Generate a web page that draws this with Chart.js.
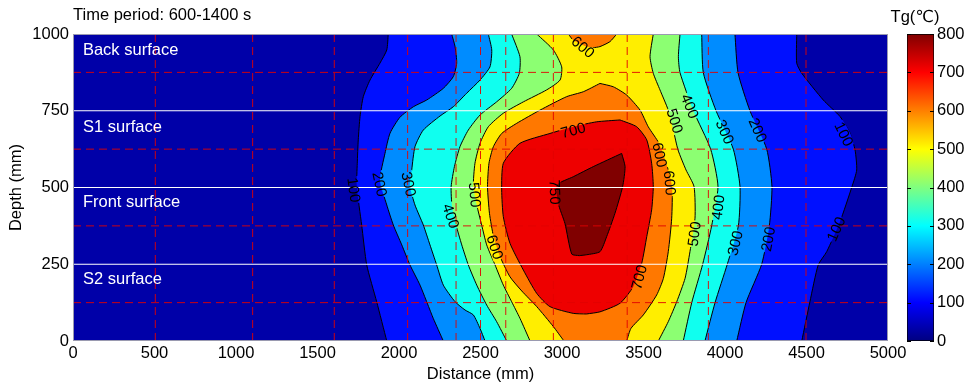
<!DOCTYPE html>
<html><head><meta charset="utf-8">
<script src="https://cdn.jsdelivr.net/npm/chart.js@4.4.1/dist/chart.umd.min.js"></script>
<style>
html,body{margin:0;padding:0;background:#fff;}
#wrap{position:relative;width:971px;height:389px;overflow:hidden;}
#main{position:absolute;left:0;top:0;}
#cbar{position:absolute;left:880px;top:0;}
</style></head><body>
<div id="wrap">
<canvas id="main" width="971" height="389"></canvas>
<canvas id="cbar" width="91" height="389"></canvas>
</div>
<script>
// ---------------- data ----------------
const chartTitle = 'Time period: 600-1400 s';
const xTitle = 'Distance (mm)';
const yTitle = 'Depth (mm)';
const colorbarTitle = 'Tg(℃)';
const xTicks = [0, 500, 1000, 1500, 2000, 2500, 3000, 3500, 4000, 4500, 5000];
const yTicks = [0, 250, 500, 750, 1000];
const colorbarTicks = [0, 100, 200, 300, 400, 500, 600, 700, 800];

// contour boundaries: [distance (mm), depth (mm)], ordered by depth
const fieldLeft  = [[0, 0], [0, 1000]];
const fieldRight = [[5000, 0], [5000, 1000]];
const c100Left  = [[1925,0],[1863,128],[1802,248],[1771,378],[1741,503],[1744,579],[1750,655],[1761,731],[1781,796],[1822,850],[1883,905],[1925,948],[1934,1000]];
const c100Right = [[4471,0],[4521,128],[4572,248],[4624,291],[4706,389],[4779,503],[4808,557],[4798,622],[4767,677],[4706,731],[4603,785],[4471,872],[4440,905],[4440,1000]];
const c200Left  = [[2272,0],[2210,74],[2129,182],[2067,248],[2017,313],[1965,378],[1925,443],[1883,524],[1914,611],[1945,677],[2006,729],[2088,763],[2170,785],[2272,823],[2333,861],[2354,905],[2344,959],[2323,1000]];
const c200Right = [[4072,0],[4129,125],[4225,250],[4272,375],[4288,503],[4256,625],[4153,750],[4080,874],[4061,1000]];
const c300Left  = [[2528,0],[2497,41],[2456,85],[2405,101],[2344,128],[2272,182],[2231,248],[2190,313],[2149,378],[2098,443],[2067,505],[2078,557],[2098,633],[2149,687],[2252,733],[2333,763],[2415,807],[2497,850],[2558,893],[2569,948],[2548,1000]];
const c300Right = [[3877,0],[3939,125],[4014,250],[4082,375],[4092,503],[4051,625],[3945,750],[3867,874],[3857,1000]];
const c400Left  = [[2661,0],[2599,63],[2538,117],[2477,182],[2425,248],[2385,313],[2350,378],[2325,440],[2320,503],[2340,568],[2374,633],[2425,687],[2497,736],[2599,779],[2691,823],[2738,872],[2742,926],[2691,1000]];
const c400Right = [[3744,0],[3796,125],[3863,250],[3918,375],[3957,503],[3912,625],[3806,750],[3724,874],[3714,926],[3724,1000]];
const c500Left  = [[2804,0],[2742,74],[2691,128],[2640,182],[2589,248],[2538,313],[2507,378],[2477,443],[2456,503],[2466,579],[2497,644],[2548,698],[2640,742],[2763,779],[2906,818],[2988,850],[2998,893],[2947,948],[2845,1000]];
const c500Right = [[3591,0],[3652,63],[3704,128],[3755,204],[3785,291],[3816,400],[3810,503],[3761,557],[3712,622],[3683,687],[3652,752],[3601,818],[3560,872],[3540,926],[3560,1000]];
const c600Left  = [[3012,0],[2947,47],[2845,112],[2753,163],[2681,209],[2620,275],[2580,340],[2555,416],[2543,503],[2552,579],[2579,633],[2630,676],[2722,709],[2865,752],[3029,796],[3131,812],[3233,839]];
const c600Right = [[3397,0],[3423,41],[3499,85],[3581,150],[3622,204],[3652,291],[3673,400],[3675,503],[3640,579],[3595,644],[3529,698],[3479,752],[3397,801],[3315,828],[3233,839]];
const c600TopLeft  = [[3190,955],[3152,959],[3069,980],[3039,1000]];
const c600TopRight = [[3190,955],[3233,959],[3294,975],[3336,1000]];
const c700Left  = [[3150,88],[3069,90],[2926,112],[2845,155],[2763,231],[2681,318],[2640,405],[2630,492],[2640,579],[2742,644],[2926,676],[3069,698],[3213,714],[3356,720]];
const c700Right = [[3150,88],[3233,95],[3356,123],[3437,177],[3489,253],[3520,340],[3550,427],[3560,503],[3550,579],[3520,655],[3458,698],[3356,720]];
const c750Left  = [[3106,278],[3060,283],[3018,383],[2977,448],[2968,508],[3069,535],[3192,568],[3366,611]];
const c750Right = [[3106,278],[3152,281],[3233,291],[3274,340],[3325,416],[3372,503],[3387,568],[3366,611]];

// contour labels
const labelText  = ['100','200','300','400','500','600','750','700','700','600','600','600','500','400','300','200','100','500','400','300','200','100'];
const labelDist  = [1724,1883,2061,2319,2466,2589,2957,3068,3472,3129,3601,3663,3693,3785,4000,4202,4730,3810,3957,4061,4264,4681];
const labelDepth = [492,511,511,407,476,306,485,687,208,958,606,515,717,765,681,687,674,349,436,319,332,365];
const labelAngle = [82,78,78,72,85,72,88,-15,-75,40,78,85,72,68,66,66,64,-82,-83,-76,-79,-66];

// sensor / surface guide lines
const sensorDistances = [505, 1102, 1603, 2053, 2350, 2500, 2655, 2947, 3400, 3898, 4497, 5000];
const sensorDepths = [125, 375, 625, 875];
const surfaceDepths = [250, 500, 750];
const surfaceNames = ['Back surface', 'S1 surface', 'Front surface', 'S2 surface'];
const surfaceNameDepths = [948, 697, 450, 202];
const surfaceNameDistance = 61;

// ---------------- styles ----------------
const FONT = "'Liberation Sans', Arial, 'DejaVu Sans', sans-serif";
const bandColors = {0:'#0000A8',100:'#0010FF',200:'#008CFF',300:'#10FFEF',400:'#8CFF72',500:'#FFEE00',600:'#FF7800',700:'#EE0000',750:'#800000'};
const jetStops = [[0,'#000080'],[0.125,'#0000FF'],[0.375,'#00FFFF'],[0.625,'#FFFF00'],[0.875,'#FF0000'],[1,'#800000']];

const regions = [
  [0, fieldLeft, fieldRight],
  [100, c100Left, c100Right],
  [200, c200Left, c200Right],
  [300, c300Left, c300Right],
  [400, c400Left, c400Right],
  [500, c500Left, c500Right],
  [600, c600Left, c600Right],
  [600, c600TopLeft, c600TopRight],
  [700, c700Left, c700Right],
  [750, c750Left, c750Right]
];
const toPts = arr => arr.map(p => ({x: p[0], y: p[1]}));

const datasets = [];
regions.forEach(([level, left, right]) => {
  const bg = level === 0;
  const common = {borderColor: '#000', borderWidth: bg ? 0 : 1, pointRadius: 0, tension: 0.2, order: 1000 - level, contour: !bg};
  datasets.push(Object.assign({data: toPts(left), fill: false}, common));
  datasets.push(Object.assign({data: toPts(right), fill: '-1', backgroundColor: bandColors[level]}, common));
});
sensorDistances.forEach(d => datasets.push({data: [{x: d, y: 0}, {x: d, y: 1000}], borderColor: 'rgba(225,0,0,0.9)', borderWidth: 1, borderDash: [8, 5], pointRadius: 0, fill: false, order: 0}));
sensorDepths.forEach(d => datasets.push({data: [{x: 0, y: d}, {x: 5000, y: d}], borderColor: 'rgba(225,0,0,0.9)', borderWidth: 1, borderDash: [8, 5], pointRadius: 0, fill: false, order: 0}));
surfaceDepths.forEach(d => datasets.push({data: [{x: 0, y: d}, {x: 5000, y: d}], borderColor: '#FFFFFF', borderWidth: 1.2, pointRadius: 0, fill: false, order: 0}));

const labelFont = '15px ' + FONT;
const textFont = '16.5px ' + FONT;

const decor = {
  id: 'decor',
  beforeDatasetDraw(chart, args) {
    const ds = chart.data.datasets[args.index];
    if (!ds.contour) return;
    const ctx = chart.ctx, xs = chart.scales.x, ys = chart.scales.y;
    ctx.save();
    ctx.font = labelFont;
    ctx.beginPath();
    ctx.rect(0, 0, chart.width, chart.height);
    labelText.forEach((t, i) => {
      const cx = xs.getPixelForValue(labelDist[i]), cy = ys.getPixelForValue(labelDepth[i]);
      const th = labelAngle[i] * Math.PI / 180, c = Math.cos(th), s = Math.sin(th);
      const hw = ctx.measureText(t).width / 2 + 1, hh = 6;
      const pts = [[-hw,-hh],[hw,-hh],[hw,hh],[-hw,hh]].map(([u, v]) => [cx + u * c - v * s, cy + u * s + v * c]);
      ctx.moveTo(pts[0][0], pts[0][1]);
      for (let k = 1; k < 4; k++) ctx.lineTo(pts[k][0], pts[k][1]);
      ctx.closePath();
    });
    ctx.clip('evenodd');
  },
  afterDatasetDraw(chart, args) {
    if (chart.data.datasets[args.index].contour) chart.ctx.restore();
  },
  afterDatasetsDraw(chart) {
    const ctx = chart.ctx, xs = chart.scales.x, ys = chart.scales.y;
    ctx.save();
    ctx.font = labelFont;
    ctx.fillStyle = '#000';
    ctx.textAlign = 'center';
    ctx.textBaseline = 'middle';
    labelText.forEach((t, i) => {
      ctx.save();
      ctx.translate(xs.getPixelForValue(labelDist[i]), ys.getPixelForValue(labelDepth[i]));
      ctx.rotate(labelAngle[i] * Math.PI / 180);
      ctx.fillText(t, 0, 1);
      ctx.restore();
    });
    ctx.font = textFont;
    ctx.fillStyle = '#FFFFFF';
    ctx.textAlign = 'left';
    surfaceNames.forEach((t, i) => {
      ctx.fillText(t, xs.getPixelForValue(surfaceNameDistance), ys.getPixelForValue(surfaceNameDepths[i]));
    });
    ctx.restore();
  },
  afterDraw(chart) {
    const ctx = chart.ctx, a = chart.chartArea;
    ctx.save();
    ctx.strokeStyle = '#9a9ab0';
    ctx.lineWidth = 1;
    ctx.strokeRect(a.left + 0.5, a.top + 0.5, a.right - a.left - 1, a.bottom - a.top - 1);
    ctx.restore();
  }
};

const tickFont = {family: FONT, size: 16.5};
const plain = v => String(v);

new Chart(document.getElementById('main'), {
  type: 'line',
  data: {datasets},
  options: {
    responsive: false, animation: false, devicePixelRatio: 1, indexAxis: 'y',
    layout: {padding: {left: 0, right: 83, top: 0, bottom: 0}},
    plugins: {
      legend: {display: false}, tooltip: {enabled: false},
      filler: {propagate: false, drawTime: 'beforeDatasetsDraw'},
      title: {display: true, text: chartTitle, align: 'start', fullSize: false, color: '#000',
              font: {family: FONT, size: 16.5, weight: 'normal'}, padding: {top: 6, bottom: 8.2}}
    },
    scales: {
      x: {type: 'linear', position: 'bottom', min: 0, max: 5000,
          afterBuildTicks: s => { s.ticks = xTicks.map(v => ({value: v})); },
          afterFit: s => { s.height = 48; },
          grid: {display: false, drawTicks: false}, border: {display: false},
          ticks: {padding: 3, color: '#000', font: tickFont, maxRotation: 0, autoSkip: false, callback: plain},
          title: {display: true, text: xTitle, color: '#000', font: tickFont, padding: {top: 0, bottom: 5}}},
      y: {type: 'linear', position: 'left', min: 0, max: 1000,
          afterBuildTicks: s => { s.ticks = yTicks.map(v => ({value: v})); },
          afterFit: s => { s.width = 73; },
          grid: {display: false, drawTicks: false}, border: {display: false},
          ticks: {padding: 4, color: '#000', font: tickFont, autoSkip: false, callback: plain},
          title: {display: true, text: yTitle, color: '#000', font: tickFont, padding: {top: 7, bottom: 0}}}
    }
  },
  plugins: [decor]
});

// ---------------- colour bar ----------------
const cbarDecor = {
  id: 'cbarDecor',
  afterDraw(chart) {
    const ctx = chart.ctx, a = chart.chartArea, ys = chart.scales.y;
    ctx.save();
    ctx.strokeStyle = '#000';
    ctx.lineWidth = 1;
    colorbarTicks.forEach(v => {
      const y = Math.round(ys.getPixelForValue(v)) + 0.5;
      ctx.beginPath();
      ctx.moveTo(a.left, y); ctx.lineTo(a.left + 4, y);
      ctx.moveTo(a.right, y); ctx.lineTo(a.right - 4, y);
      ctx.stroke();
    });
    ctx.font = '16.5px ' + FONT + ", 'Noto Sans CJK SC'";
    ctx.fillStyle = '#000';
    ctx.textAlign = 'center';
    ctx.textBaseline = 'middle';
    ctx.fillText(colorbarTitle, 35, 17);
    ctx.restore();
  }
};

new Chart(document.getElementById('cbar'), {
  type: 'bar',
  data: {labels: ['Tg'], datasets: [{
    data: [[colorbarTicks[0], colorbarTicks[colorbarTicks.length - 1]]],
    backgroundColor: (c) => {
      const a = c.chart.chartArea;
      if (!a) return '#0000FF';
      const g = c.chart.ctx.createLinearGradient(0, a.bottom, 0, a.top);
      jetStops.forEach(([t, col]) => g.addColorStop(t, col));
      return g;
    },
    borderColor: '#000', borderWidth: 1, borderSkipped: false,
    barPercentage: 1, categoryPercentage: 1
  }]},
  options: {
    responsive: false, animation: false, devicePixelRatio: 1,
    layout: {padding: {left: 27, top: 34, bottom: 48, right: 0}},
    plugins: {legend: {display: false}, tooltip: {enabled: false}, title: {display: false}},
    scales: {
      x: {display: false},
      y: {position: 'right', min: 0, max: 800,
          afterBuildTicks: s => { s.ticks = colorbarTicks.map(v => ({value: v})); },
          afterFit: s => { s.width = 37; },
          grid: {display: false, drawTicks: false}, border: {display: false},
          ticks: {padding: 3, color: '#000', font: tickFont, autoSkip: false, callback: plain}}
    }
  },
  plugins: [cbarDecor]
});
</script>
</body></html>
